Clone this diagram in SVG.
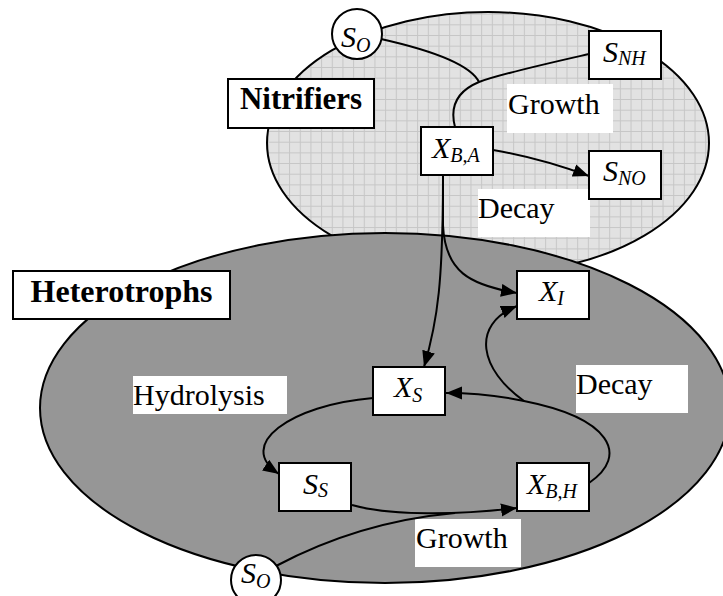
<svg xmlns="http://www.w3.org/2000/svg" width="723" height="596" viewBox="0 0 723 596">
<defs>
<pattern id="grid" patternUnits="userSpaceOnUse" x="1" y="3" width="10.67" height="10.67">
<rect width="10.67" height="10.67" fill="#e2e2e2"/>
<path d="M0,0.5 H10.67 M0.5,0 V10.67" stroke="#c6c6c6" stroke-width="1" fill="none"/>
</pattern>
<marker id="arr" markerUnits="userSpaceOnUse" markerWidth="17" markerHeight="14" refX="16" refY="6.5" orient="auto">
<path d="M0,0 L16,6.5 L0,13 z" fill="#000"/>
</marker>
<style>
.box{fill:#fff;stroke:#000;stroke-width:2}
.lbl{fill:#fff;stroke:none}
.t{font-family:"Liberation Serif","Times New Roman",serif;font-size:30px;fill:#000}
.v{font-family:"Liberation Serif","Times New Roman",serif;font-size:30px;font-style:italic;fill:#000}
.sub{font-size:20px}
.b{font-family:"Liberation Serif","Times New Roman",serif;font-weight:bold;fill:#000}
.c{fill:none;stroke:#000;stroke-width:2}
</style>
</defs>
<rect width="723" height="596" fill="#fff"/>
<g id="nitrifiers-region">
<ellipse cx="488" cy="143" rx="221" ry="131" fill="url(#grid)" stroke="#000" stroke-width="2"/>
</g>
<g id="heterotrophs-region">
<ellipse cx="385" cy="408" rx="345" ry="175" fill="#969696" stroke="#000" stroke-width="2"/>
</g>
<g id="labels">
<rect class="lbl" x="507" y="84" width="106" height="49"/>
<text class="t" x="508" y="114">Growth</text>
<rect class="lbl" x="478" y="189" width="112" height="48"/>
<text class="t" x="478" y="218">Decay</text>
<rect class="lbl" x="133" y="376" width="154" height="38"/>
<text class="t" x="133" y="405">Hydrolysis</text>
<rect class="lbl" x="576" y="365" width="112" height="48"/>
<text class="t" x="576" y="394">Decay</text>
<rect class="lbl" x="415" y="519" width="106" height="48"/>
<text class="t" x="416" y="548">Growth</text>
</g>
<g id="connectors">
<path class="c" d="M381,39 C430,50 470,64 479,82"/>
<path class="c" d="M589,54 C545,64 500,74 479,82 C455,92 450,108 455,127"/>
<path class="c" marker-end="url(#arr)" d="M493,150 Q540,158 589,176"/>
<path class="c" marker-end="url(#arr)" d="M443,175 C443,280 438,320 424,367"/>
<path class="c" marker-end="url(#arr)" d="M443,175 L443,225 C445,272 470,285 517,293"/>
<path class="c" marker-end="url(#arr)" d="M589,483 C630,455 610,418 524,401 C500,396 475,393 446,393"/>
<path class="c" marker-end="url(#arr)" d="M524,401 C480,370 470,325 517,306"/>
<path class="c" marker-end="url(#arr)" d="M373,398 C290,405 235,445 279,474"/>
<path class="c" marker-end="url(#arr)" d="M352,505 C390,516 460,515 517,508"/>
<path class="c" d="M276,566 C340,532 400,518 455,513"/>
</g>
<g id="node-nitrifiers">
<rect class="box" x="228" y="79" width="146" height="49"/>
<text class="b" x="301" y="109" font-size="31" text-anchor="middle">Nitrifiers</text>
</g>
<g id="node-heterotrophs">
<rect class="box" x="13" y="271" width="217" height="48"/>
<text class="b" x="121.5" y="302" font-size="32" text-anchor="middle">Heterotrophs</text>
</g>
<g id="node-so-top">
<circle cx="357" cy="34" r="25" fill="#fff" stroke="#000" stroke-width="2"/>
<text class="v" x="341" y="47">S<tspan class="sub" dy="5">O</tspan></text>
</g>
<g id="node-snh">
<rect class="box" x="589" y="31" width="72" height="48"/>
<text class="v" x="603" y="62">S<tspan class="sub" dy="3">NH</tspan></text>
</g>
<g id="node-xba">
<rect class="box" x="421" y="127" width="72" height="48"/>
<text class="v" x="432" y="158">X<tspan class="sub" dy="4">B,A</tspan></text>
</g>
<g id="node-sno">
<rect class="box" x="589" y="151" width="72" height="48"/>
<text class="v" x="603" y="181">S<tspan class="sub" dy="4">NO</tspan></text>
</g>
<g id="node-xi">
<rect class="box" x="517" y="271" width="72" height="48"/>
<text class="v" x="539" y="301">X<tspan class="sub" dy="4">I</tspan></text>
</g>
<g id="node-xs">
<rect class="box" x="373" y="367" width="72" height="48"/>
<text class="v" x="394" y="397">X<tspan class="sub" dy="5">S</tspan></text>
</g>
<g id="node-ss">
<rect class="box" x="279" y="463" width="72" height="48"/>
<text class="v" x="303" y="494">S<tspan class="sub" dy="3">S</tspan></text>
</g>
<g id="node-xbh">
<rect class="box" x="517" y="463" width="72" height="48"/>
<text class="v" x="527" y="494">X<tspan class="sub" dy="4">B,H</tspan></text>
</g>
<g id="node-so-bottom">
<circle cx="256" cy="580" r="25" fill="#fff" stroke="#000" stroke-width="2"/>
<text class="v" x="241" y="583">S<tspan class="sub" dy="5">O</tspan></text>
</g>
</svg>
